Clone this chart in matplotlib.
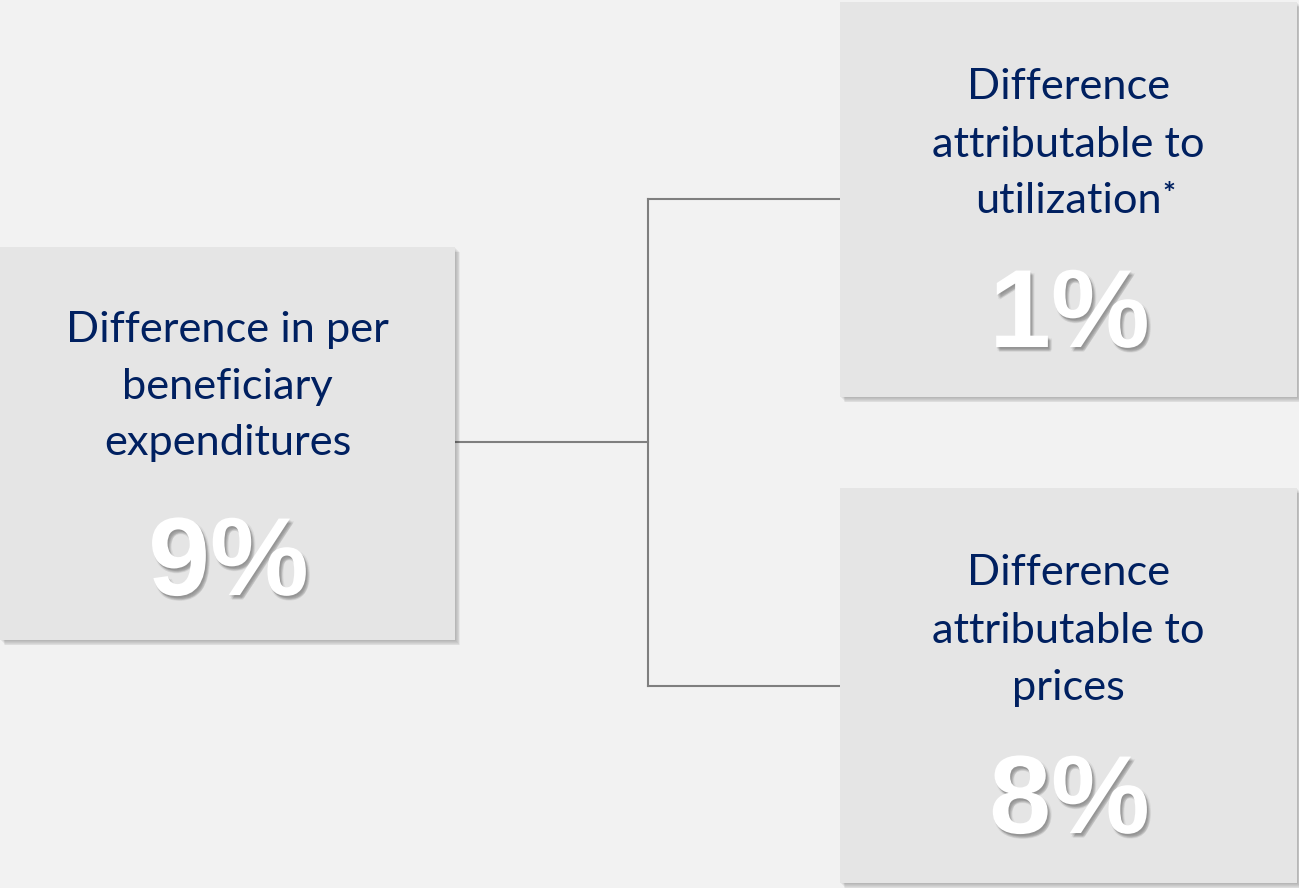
import matplotlib
matplotlib.use("Agg")
import matplotlib.pyplot as plt
from matplotlib.patches import Rectangle
import matplotlib.patheffects as pe

# ---- data ----
box_labels = [
    ["Difference in per", "beneficiary", "expenditures"],
    ["Difference", "attributable to", "utilization"],
    ["Difference", "attributable to", "prices"],
]
box_values = [9, 1, 8]
box_notes = ["", "*", ""]

# ---- layout (pixels) ----
W, H = 1299, 888
boxes = [(0, 247, 455, 393), (840, 2, 457, 395), (840, 488, 457, 395)]  # x, y, w, h
label_y = [[330, 387, 443], [87, 145, 201], [573, 631, 688]]
value_y = [566, 318, 804]

BG = "#f2f2f2"
BOX = "#e5e5e5"
NAVY = "#002060"
LINE = "#7f7f7f"

fig = plt.figure(figsize=(W / 100, H / 100), dpi=100, facecolor=BG)
ax = fig.add_axes([0, 0, 1, 1])
ax.set_xlim(0, W)
ax.set_ylim(H, 0)
ax.axis("off")
ax.set_facecolor(BG)

# connectors
mid_x = 648
ax.plot([455, mid_x], [442, 442], color=LINE, lw=1.5, zorder=1)
ax.plot([mid_x, mid_x], [199, 686], color=LINE, lw=1.5, zorder=1)
ax.plot([mid_x, 840], [199, 199], color=LINE, lw=1.5, zorder=1)
ax.plot([mid_x, 840], [686, 686], color=LINE, lw=1.5, zorder=1)

shadow_fx = []
for dx, dy in [(0.5, -1), (1, -1.5), (1.5, -2), (2, -2.5), (2.5, -3), (1, -3), (3, -2), (2, -3.5)]:
    shadow_fx.append(pe.SimplePatchShadow(offset=(dx, dy), shadow_rgbFace="black", alpha=0.05))
shadow_fx.append(pe.Normal())

for i, (x, y, w, h) in enumerate(boxes):
    # soft shadow
    for k in range(1, 7):
        ax.add_patch(Rectangle((x + k * 0.9, y + k * 0.9), w, h, facecolor="black",
                               edgecolor="none", alpha=0.045, zorder=2))
    ax.add_patch(Rectangle((x, y), w, h, facecolor=BOX, edgecolor="none", zorder=3))
    cx = x + w / 2
    for j, line in enumerate(box_labels[i]):
        t = ax.text(cx, label_y[i][j], line, ha="center", va="center", fontsize=31.2,
                    family="Lato", color=NAVY, zorder=4)
        if j == len(box_labels[i]) - 1 and box_notes[i]:
            ax.annotate(box_notes[i], xy=(1, 1), xycoords=t, xytext=(0.5, 1),
                        textcoords="offset points", ha="left", va="top", fontsize=22,
                        fontweight="bold", family="Lato", color=NAVY, zorder=4)
    ax.text(cx + 1, value_y[i], f"{box_values[i]}%", ha="center", va="center", fontsize=80,
            fontweight="bold", family="Liberation Sans", color="white", zorder=5,
            path_effects=shadow_fx)

fig.savefig("out.png", dpi=100, facecolor=BG)
